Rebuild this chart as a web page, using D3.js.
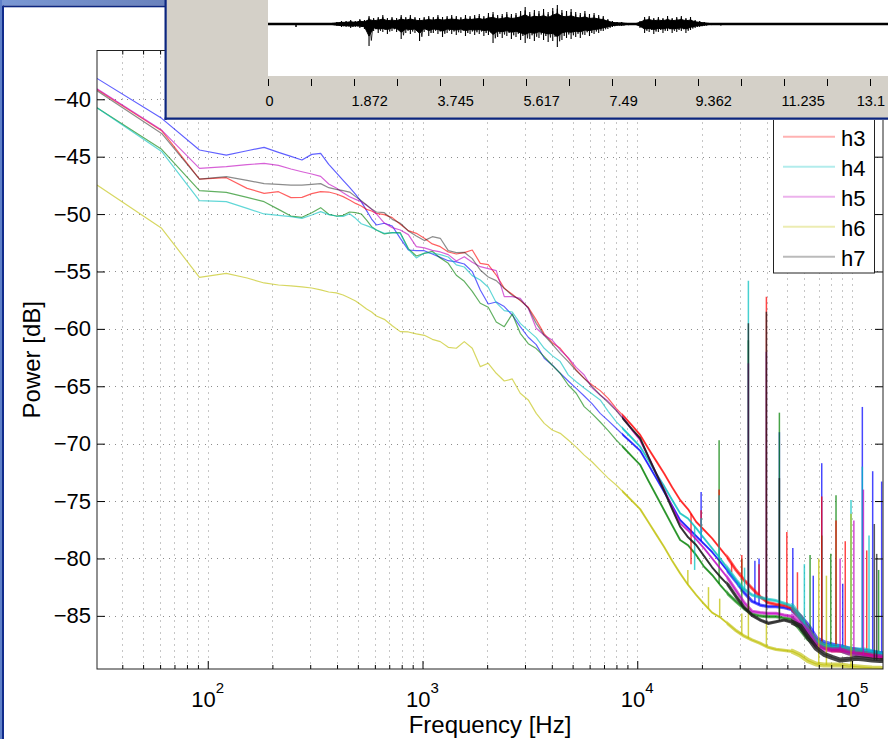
<!DOCTYPE html>
<html>
<head>
<meta charset="utf-8">
<script src="https://cdn.jsdelivr.net/npm/d3@7/dist/d3.min.js"></script>
<style>
html,body{margin:0;padding:0;background:#fff;overflow:hidden;}
svg{display:block;}
text{font-family:"Liberation Sans",Arial,Helvetica,sans-serif;fill:#000;}
</style>
</head>
<body>
<svg id="chart" width="888" height="739"></svg>
<script>
// ---------------- DATA ----------------
const freqs = [30.5,61,91.5,122,152.5,183,213.5,244,274.5,305,335.5,366,396.5,427,457.5,488,518.5,549,579.5,610,
 664,723,788,859,936,1020,1111,1210,1318,1437,1565,1705,1858,2024,2205,2403,2618,2852,3108,3385,3688,4018,4378,4770,5196,5662,6169,6721,7322,7977,8692,9469,
 10316,11240,12246,13342,14536,15837,17255,18799,20481,22315,24312,26488,28860,31442,34256,37322,40665,44305,48270,52594,57300,62428,68013,74107,80738,87963,95837,104400,113700,123900,135000,139400];

const h1 = [-38.18,-41.66,-44.42,-44.86,-44.48,-44.19,-44.62,-44.97,-45.29,-44.80,-44.71,-45.67,-46.39,-47.06,-47.67,-48.28,-48.92,-49.70,-50.43,-50.95,
 -50.80,-51.04,-52.11,-53.13,-53.19,-53.19,-53.48,-53.77,-54.06,-54.17,-54.35,-55.01,-56.61,-57.83,-57.66,-58.06,-58.79,-59.81,-60.73,-61.37,-62.56,-63.14,-63.87,-64.54,-65.18,-65.85,-66.54,-67.36,-67.99,-68.66,-69.33,-69.97,-70.61,
 -71.8,-73.0,-74.2,-75.4,
 -76.65,-77.35,-78.04,-78.74,-79.44,-80.28,-81.15,-82.02,-82.98,-83.74,-84.06,-84.20,-84.20,-84.29,-84.46,-85.07,-85.88,-86.96,-87.34,-87.54,-87.68,-87.86,-87.97,-88.09,-88.18,-88.27,-88.3];
const h2 = [-40.73,-44.36,-47.96,-48.11,-48.54,-48.92,-49.59,-50.17,-50.28,-49.88,-49.44,-50.02,-50.17,-50.11,-49.82,-49.88,-49.99,-50.52,-51.10,-51.39,
 -51.73,-51.62,-51.62,-53.01,-53.65,-53.42,-53.24,-53.82,-54.29,-55.33,-55.86,-56.73,-57.77,-58.12,-59.40,-59.81,-58.70,-60.39,-61.29,-61.72,-62.42,-63.17,-63.87,-64.89,-65.61,-66.77,-67.41,-68.11,-68.86,-69.68,-70.40,-71.13,-71.85,
 -73.2,-74.5,-75.8,-77.1,
 -78.39,-78.86,-79.70,-80.72,-81.44,-82.31,-83.10,-83.76,-84.37,-84.84,-85.01,-85.07,-85.07,-85.19,-85.30,-86.09,-86.96,-87.45,-87.68,-87.86,-87.97,-88.21,-88.32,-88.41,-88.50,-88.56,-88.6];
const h3 = [-39.14,-42.74,-46.95,-46.83,-47.76,-48.19,-48.05,-48.57,-48.54,-48.22,-48.05,-48.08,-48.25,-48.48,-48.77,-49.07,-49.30,-49.59,-49.73,-49.94,
 -50.05,-50.31,-50.89,-51.44,-51.68,-52.11,-52.60,-52.84,-53.30,-53.48,-53.36,-53.13,-54.29,-54.41,-55.31,-56.47,-56.99,-57.54,-58.12,-59.22,-60.44,-61.20,-61.69,-62.56,-63.58,-64.31,-64.89,-65.38,-66.05,-66.92,-67.65,-68.43,-69.24,
 -70.4,-71.5,-72.6,-73.8,
 -74.91,-75.72,-76.80,-77.52,-78.25,-79.12,-79.99,-81.01,-81.88,-82.60,-83.33,-83.85,-84.00,-84.08,-84.35,-85.07,-86.23,-87.16,-87.68,-87.97,-87.97,-87.97,-88.03,-88.27,-88.41,-88.56,-88.6];
const h4 = [-40.73,-44.54,-48.83,-48.92,-49.50,-49.99,-50.11,-50.23,-50.37,-50.08,-49.79,-50.05,-50.17,-50.20,-49.97,-50.37,-50.84,-51.01,-51.18,-51.39,
 -51.68,-51.62,-51.68,-53.07,-53.82,-53.39,-53.39,-53.53,-53.74,-54.43,-54.61,-55.36,-55.74,-56.38,-57.72,-58.41,-58.53,-59.52,-60.15,-60.76,-61.69,-62.33,-62.85,-64.01,-64.60,-65.15,-65.67,-66.19,-67.18,-68.08,-68.81,-69.53,-70.26,
 -71.4,-72.6,-73.7,-74.9,
 -76.07,-76.53,-77.35,-78.25,-79.12,-79.99,-80.92,-81.88,-82.69,-83.18,-83.39,-83.56,-83.68,-83.91,-84.14,-85.07,-86.29,-87.16,-87.57,-87.68,-87.68,-87.86,-87.97,-87.97,-88.12,-88.27,-88.3];
const h5 = [-39.08,-42.68,-46.02,-45.87,-45.70,-45.58,-45.76,-46.07,-46.31,-46.51,-46.71,-47.38,-47.73,-48.14,-48.49,-48.72,-48.92,-49.24,-49.59,-49.99,
 -50.78,-51.18,-51.39,-51.79,-52.84,-52.95,-53.16,-53.30,-53.53,-54.09,-53.71,-54.20,-54.58,-54.75,-54.93,-57.19,-57.19,-57.34,-58.21,-59.95,-60.56,-60.97,-61.84,-62.51,-63.35,-64.02,-65.15,-65.76,-66.31,-67.06,-67.88,-68.81,-69.68,
 -71.1,-72.6,-74.0,-75.5,
 -76.94,-77.58,-78.33,-79.12,-79.99,-80.86,-81.76,-82.81,-83.85,-84.61,-84.72,-84.78,-84.78,-84.93,-85.04,-85.65,-86.38,-87.54,-87.92,-87.97,-87.97,-88.21,-88.32,-88.41,-88.50,-88.56,-88.6];
const h6 = [-47.47,-51.24,-55.51,-55.16,-55.57,-56.00,-56.18,-56.26,-56.35,-56.44,-56.61,-56.79,-56.87,-57.05,-57.31,-57.57,-57.92,-58.27,-58.53,-58.88,
 -59.17,-59.72,-60.24,-60.27,-60.44,-60.56,-60.91,-61.11,-61.61,-61.69,-61.11,-61.69,-63.29,-63.00,-63.87,-64.54,-64.36,-65.61,-66.19,-67.36,-68.23,-68.81,-69.10,-69.68,-70.3,-71.0,-71.6,-72.3,-73.0,-73.6,-74.3,-75.0,-75.7,
 -76.8,-77.9,-79.0,-80.2,
 -81.30,-82.31,-83.18,-83.97,-84.72,-85.13,-85.71,-86.29,-86.76,-87.10,-87.39,-87.74,-87.92,-88.00,-88.09,-88.41,-88.90,-89.19,-89.28,-89.28,-89.28,-89.37,-89.43,-89.49,-89.54,-89.57,-89.6];
const h7 = [-39.25,-42.97,-46.95,-46.74,-47.06,-47.35,-47.41,-47.47,-47.47,-47.41,-47.35,-47.70,-47.85,-47.96,-48.08,-48.48,-48.83,-49.21,-49.56,-49.82,
 -49.88,-50.46,-50.80,-51.47,-51.91,-52.31,-51.97,-52.11,-53.19,-53.36,-53.33,-53.88,-54.87,-55.48,-55.80,-56.47,-57.08,-57.48,-58.18,-59.52,-60.56,-61.32,-62.13,-62.85,-63.64,-64.31,-65.03,-65.76,-66.43,-67.12,-67.94,-68.75,-69.53,
 -71.1,-72.6,-74.1,-75.7,
 -77.23,-78.16,-78.83,-79.79,-80.77,-81.59,-82.31,-83.33,-84.26,-84.96,-85.36,-85.65,-85.51,-85.36,-85.56,-85.88,-86.87,-87.83,-88.35,-88.61,-88.85,-88.79,-88.70,-88.76,-88.85,-88.90,-88.9];

const seriesNames  = ["h1","h2","h3","h4","h5","h6","h7"];
const seriesColors = ["#0000ff","#008000","#ff0000","#00bfbf","#bf00bf","#bfbf00","#1a1a1a"];

// narrow-band peaks: [frequency Hz, peak dB, series index]
const spikes = [
 [17800,-80.5,2],[18500,-81.0,3],[19830,-74.2,0],[19830,-75.8,2],[19830,-76.5,3],
 [24050,-69.7,1],[24050,-74.0,2],[24050,-74.5,3],[27500,-81.2,2],[29600,-82.5,3],
 [30670,-79.7,2],[30670,-80.0,1],[31600,-80.8,3],
 [32920,-55.8,3],[32920,-61.0,1],[32920,-63.0,4],[32920,-59.5,6],
 [35300,-80.2,0],[36900,-80.5,2],[36900,-80.0,0],[39930,-57.2,2],[39930,-62.0,0],[39930,-58.5,6],
 [45900,-67.3,1],[45900,-69.0,0],[45900,-73.0,6],[49700,-77.7,2],[53000,-79.1,0],[55700,-81.2,2],
 [60000,-80.5,3],[63780,-79.7,1],[66000,-81.5,0],[70000,-80.0,5],[72270,-71.7,0],[72270,-74.6,2],[72270,-78.0,1],
 [76000,-81.5,5],[79620,-79.6,1],[84240,-74.5,1],[84240,-76.7,2],[88000,-80.0,4],
 [90500,-82.2,0],[93000,-78.5,2],[98920,-74.9,3],[98920,-76.1,5],[102000,-76.7,4],
 [111700,-66.8,0],[111700,-72.0,3],[113000,-74.0,4],[117100,-79.3,2],[120000,-78.0,3],
 [124800,-72.4,0],[127000,-77.0,6],[130300,-79.6,6],[133000,-81.0,1],[137400,-73.3,0],
 [17200,-81.0,5],[21460,-82.5,5],[24200,-83.5,5],[30670,-84.8,5],[32920,-84.0,5],[39930,-85.6,5]
];

const yTicks = [-85,-80,-75,-70,-65,-60,-55,-50,-45,-40];
const xTicks = [100,1000,10000,100000];
const xTickExp = ["2","3","4","5"];

// waveform overview (time in s, envelope in arbitrary amplitude units)
const wavStart = 1.4, wavStep = 0.1;
const wavUpper = [1,2,3,3,4,3,5,4,8,6,7,9,6,7,6,9,7,9,7,6,7,8,7,9,7,8,9,8,7,9,8,9,10,8,11,12,9,10,12,10,11,13,17,12,14,13,15,12,16,19,14,13,15,12,11,13,10,11,9,8,5,3,2,2,1,0.5,0.5,3,7,8,6,7,6,8,6,7,8,6,7,4,3,2,1];
const wavLower = [1,2,3,3,4,3,4,5,22,7,9,8,10,7,8,15,9,10,9,17,8,12,9,10,13,9,10,11,9,12,10,11,10,12,11,19,13,14,12,15,13,16,19,15,17,14,16,18,17,23,16,14,15,13,14,11,12,10,9,7,5,3,2,2,1,0.5,0.5,4,9,8,10,8,9,7,9,8,7,9,6,4,3,2,1];
const wavBlips = [[0.61,0.5,3],[9.86,1,1.5]];
const timeTickLabels = ["0","1.872","3.745","5.617","7.49","9.362","11.235","13.1"];
const timeTickStep = 0.93625;

// ---------------- DRAW ----------------
const svg = d3.select("#chart");
const P = {l:97, r:883, t:50.5, b:669};
const x = d3.scaleLog().domain([30.5,139400]).range([P.l,P.r]);
const y = d3.scaleLinear().domain([-89.63,-35.75]).range([P.b,P.t]);
const allSeries = [h1,h2,h3,h4,h5,h6,h7];
const panelBottom = 120;

svg.append("rect").attr("width",888).attr("height",739).attr("fill","#fff");
const defs = svg.append("defs");
defs.append("clipPath").attr("id","plotClip").append("rect")
  .attr("x",P.l).attr("y",P.t).attr("width",P.r-P.l).attr("height",P.b-P.t);
const bands = [[8500,26000,2],[26000,52000,3.2],[52000,139400,5]];
bands.forEach((b,i)=>defs.append("clipPath").attr("id","band"+i).append("rect")
  .attr("x",x(b[0])).attr("y",P.t).attr("width",x(b[1])-x(b[0])).attr("height",P.b-P.t));

// grid
const minorX = [];
for (let d=1; d<=5; d++) for (let m=1; m<=9; m++) { const v=m*Math.pow(10,d); if (v>30.5 && v<139400) minorX.push(v); }
const gridG = svg.append("g");
minorX.forEach(v=>gridG.append("line").attr("x1",Math.round(x(v))+0.5).attr("x2",Math.round(x(v))+0.5)
  .attr("y1",P.t).attr("y2",P.b).attr("stroke","#8c8c8c").attr("stroke-width",1).attr("stroke-dasharray","1,5"));
yTicks.forEach(v=>gridG.append("line").attr("y1",Math.round(y(v))+0.5).attr("y2",Math.round(y(v))+0.5)
  .attr("x1",P.l).attr("x2",P.r).attr("stroke","#8c8c8c").attr("stroke-width",1).attr("stroke-dasharray","1,5"));

// series
function valueAt(vals,f){
  const i = d3.bisectLeft(freqs,f);
  if (i<=0) return vals[0];
  if (i>=freqs.length) return vals[vals.length-1];
  const f0=freqs[i-1], f1=freqs[i];
  const t=(Math.log(f)-Math.log(f0))/(Math.log(f1)-Math.log(f0));
  return vals[i-1]+t*(vals[i]-vals[i-1]);
}
const lineGen = d3.line().x((d,i)=>x(freqs[i])).y(d=>y(d));
const plotG = svg.append("g").attr("clip-path","url(#plotClip)");
allSeries.forEach((vals,si)=>{
  const col = seriesColors[si];
  const g = plotG.append("g");
  g.append("path").attr("d",lineGen(vals)).attr("fill","none").attr("stroke",col)
    .attr("stroke-width",1.2).attr("stroke-opacity",si===6?0.5:0.62).attr("stroke-linejoin","round");
  bands.forEach((b,bi)=>g.append("g").attr("clip-path",`url(#band${bi})`).append("path")
    .attr("d",lineGen(vals)).attr("fill","none").attr("stroke",col)
    .attr("stroke-width",b[2]).attr("stroke-opacity",si===6?0.8:0.62).attr("stroke-linejoin","round"));
  spikes.filter(s=>s[2]===si).forEach(s=>{
    const base = valueAt(vals,s[0]);
    g.append("line").attr("x1",x(s[0])).attr("x2",x(s[0])).attr("y1",y(base)).attr("y2",y(s[1]))
      .attr("stroke",col).attr("stroke-width",1.5).attr("stroke-opacity",0.72);
  });
});

// axes box + ticks
const axG = svg.append("g").attr("font-size",22);
const minorOnly = minorX.filter(v=>!xTicks.includes(v));
const xMajorB = d3.axisBottom(x).tickValues(xTicks).tickSizeInner(-8).tickSizeOuter(0).tickFormat("");
const xMinorB = d3.axisBottom(x).tickValues(minorOnly).tickSizeInner(-4).tickSizeOuter(0).tickFormat("");
const xMajorT = d3.axisTop(x).tickValues(xTicks).tickSizeInner(-8).tickSizeOuter(0).tickFormat("");
const xMinorT = d3.axisTop(x).tickValues(minorOnly).tickSizeInner(-4).tickSizeOuter(0).tickFormat("");
[xMajorB,xMinorB].forEach(a=>axG.append("g").attr("transform",`translate(0,${P.b})`).call(a));
[xMajorT,xMinorT].forEach(a=>axG.append("g").attr("transform",`translate(0,${P.t})`).call(a));
axG.append("g").attr("transform",`translate(${P.l},0)`)
  .call(d3.axisLeft(y).tickValues(yTicks).tickSizeInner(-8).tickSizeOuter(0).tickPadding(6)
  .tickFormat(v=>String(v).replace("-","\u2212")));
axG.append("g").attr("transform",`translate(${P.r},0)`)
  .call(d3.axisRight(y).tickValues(yTicks).tickSizeInner(-8).tickSizeOuter(0).tickFormat(""));
axG.selectAll(".domain").remove();
axG.selectAll(".tick line").attr("stroke","#000");
axG.selectAll(".tick text").attr("font-family","Liberation Sans, Arial, sans-serif").attr("font-size",22).attr("fill","#000");
svg.append("rect").attr("x",P.l).attr("y",P.t).attr("width",P.r-P.l).attr("height",P.b-P.t)
  .attr("fill","none").attr("stroke","#222").attr("stroke-width",1);

// x tick labels 10^n
xTicks.forEach((v,i)=>{
  const t = svg.append("text").attr("x",x(v)).attr("y",707).attr("text-anchor","middle").attr("font-size",22).text("10");
  t.append("tspan").attr("dy",-14).attr("font-size",15).text(xTickExp[i]);
});
svg.append("text").attr("x",(P.l+P.r)/2).attr("y",733).attr("text-anchor","middle").attr("font-size",24).text("Frequency [Hz]");
svg.append("text").attr("transform",`translate(40,${(P.t+P.b)/2}) rotate(-90)`).attr("text-anchor","middle").attr("font-size",24).text("Power [dB]");

// legend (its first rows lie beneath the overview panel, so only the visible rows are drawn)
const lg = svg.append("g");
lg.append("rect").attr("x",773.5).attr("y",62.5).attr("width",101).attr("height",210.5).attr("fill","#fff").attr("stroke","#222").attr("stroke-width",1);
seriesNames.forEach((n,i)=>{
  const ly = 76.7 + i*30;
  if (ly - 12 < panelBottom) return;
  lg.append("line").attr("x1",783).attr("x2",835).attr("y1",ly).attr("y2",ly)
    .attr("stroke",seriesColors[i]).attr("stroke-width",2).attr("stroke-opacity",0.3);
  lg.append("text").attr("x",841).attr("y",ly+9.5).attr("font-size",22).text(n);
});

// window frame (left / top)
const grad = defs.append("linearGradient").attr("id","tbar").attr("x1","0").attr("x2","1");
grad.append("stop").attr("offset","0").attr("stop-color","#7a98d4");
grad.append("stop").attr("offset","1").attr("stop-color","#6a82bc");
svg.append("rect").attr("x",0).attr("y",0).attr("width",166).attr("height",5.5).attr("fill","url(#tbar)");
svg.append("rect").attr("x",3).attr("y",5.5).attr("width",163).attr("height",1.8).attr("fill","#0c2680");
svg.append("rect").attr("x",0).attr("y",0).attr("width",2).attr("height",739).attr("fill","#5f80c8");
svg.append("rect").attr("x",2).attr("y",5.5).attr("width",2).attr("height",733.5).attr("fill","#112c8c");

// waveform overview panel
const tx = d3.scaleLinear().domain([0,13.5]).range([268,888]);
const ty = d3.scaleLinear().domain([-24,24]).range([48,0]);
svg.append("rect").attr("x",165).attr("y",0).attr("width",723).attr("height",panelBottom).attr("fill","#d4d0c8");
svg.append("rect").attr("x",268).attr("y",0).attr("width",620).attr("height",76).attr("fill","#fff");
svg.append("line").attr("x1",268).attr("x2",888).attr("y1",ty(0)).attr("y2",ty(0)).attr("stroke","#000").attr("stroke-width",2.5);
const wavPts = wavUpper.map((u,i)=>({t:wavStart+i*wavStep, u:u, l:wavLower[i]}));
svg.append("path").attr("d",d3.area().x(d=>tx(d.t)).y0(d=>ty(-d.l*0.55)).y1(d=>ty(d.u*0.55))(wavPts))
  .attr("fill","#000").attr("stroke","#000").attr("stroke-width",1);
wavPts.forEach(d=>{
  svg.append("line").attr("x1",tx(d.t)).attr("x2",tx(d.t)).attr("y1",ty(d.u)).attr("y2",ty(-d.l))
    .attr("stroke","#000").attr("stroke-width",1.1);
});
const zz = [];
wavPts.forEach(d=>{ zz.push([d.t,d.u*0.8]); zz.push([d.t+wavStep/2,-d.l*0.75]); });
svg.append("path").attr("d",d3.line().x(d=>tx(d[0])).y(d=>ty(d[1]))(zz))
  .attr("fill","none").attr("stroke","#000").attr("stroke-width",0.8);
wavBlips.forEach(b=>svg.append("line").attr("x1",tx(b[0])).attr("x2",tx(b[0])).attr("y1",ty(b[1])).attr("y2",ty(-b[2])).attr("stroke","#000").attr("stroke-width",1.5));
const timeTicks = d3.range(0,13.6,timeTickStep);
timeTicks.forEach((t,i)=>{
  svg.append("line").attr("x1",Math.round(tx(t))+0.5).attr("x2",Math.round(tx(t))+0.5).attr("y1",79).attr("y2",86).attr("stroke","#000").attr("stroke-width",1);
  if (i%2===0 && timeTickLabels[i/2]!==undefined) {
    const lx = tx(t)-2.5;
    const tt = svg.append("text").attr("x",lx).attr("y",105.5).attr("font-size",14.5).attr("fill","#111").text(timeTickLabels[i/2]);
    if (lx+30 > 886) tt.attr("x",885).attr("text-anchor","end");
  }
});
svg.append("rect").attr("x",164.5).attr("y",0).attr("width",2.2).attr("height",panelBottom).attr("fill","#0c2680");
svg.append("rect").attr("x",164.5).attr("y",panelBottom-2.5).attr("width",724).attr("height",2.2).attr("fill","#0c2680");
</script>
</body>
</html>
